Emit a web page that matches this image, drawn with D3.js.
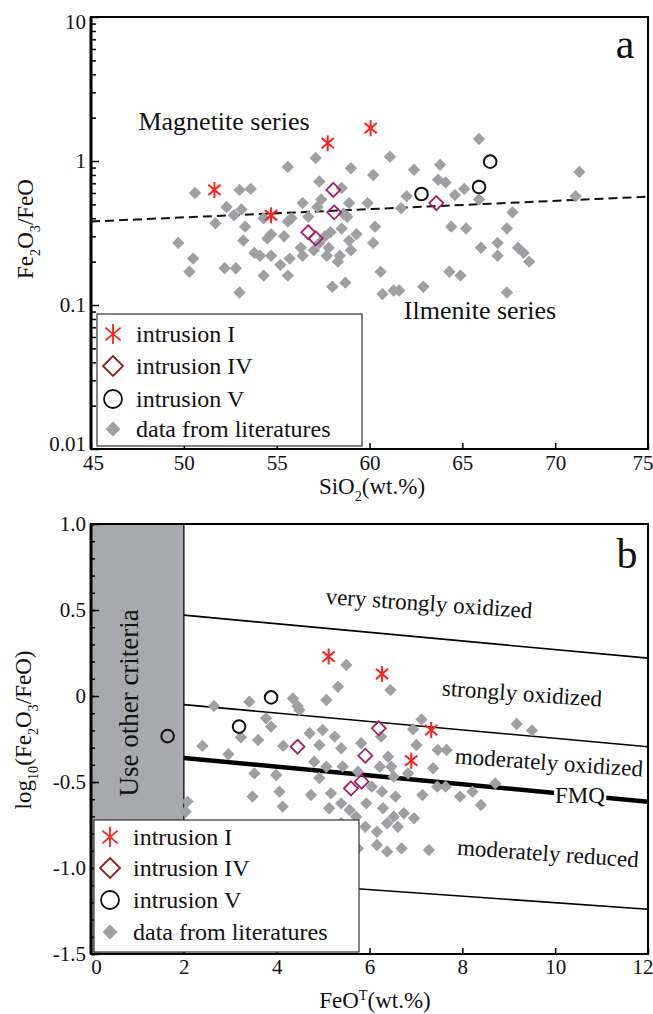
<!DOCTYPE html>
<html>
<head>
<meta charset="utf-8">
<script src="https://cdn.jsdelivr.net/npm/d3@7"></script>
<style>
  body { margin: 0; background: #fff; }
  svg { display: block; }
</style>
</head>
<body>
<div id="chart"></div>
<script>
// ---- panel a: SiO2 vs Fe2O3/FeO (log) ----
const litSiO2 = [65.9, 61.1, 57.1, 55.6, 59.0, 62.4, 63.8, 71.3, 60.2, 57.3, 63.7, 64.1, 50.6, 53.0, 53.6, 58.5,
  65.1, 62.0, 64.6, 71.1, 65.9, 56.4, 57.4, 58.9, 59.9, 52.3, 53.1, 61.7, 67.7, 57.2, 51.7, 52.7, 54.3, 55.8,
  56.7, 58.6, 58.8, 53.3, 55.6, 60.3, 64.4, 65.2, 67.4, 54.7, 55.4, 56.3, 57.6, 57.9, 58.5, 49.7, 54.5, 53.2,
  59.3, 58.9, 60.2, 66.0, 66.9, 68.0, 68.3, 66.9, 68.6, 50.5, 52.2, 53.8, 54.1, 54.7, 55.2, 55.7, 56.4, 57.7,
  58.4, 59.0, 58.3, 50.3, 52.8, 54.3, 55.6, 60.6, 64.3, 64.9, 58.0, 58.7, 53.0, 60.7, 61.3, 61.6, 62.9, 67.4,
  57.3, 57.0, 57.8];
const litRatio = [1.42, 1.07, 1.05, 0.91, 0.89, 0.87, 0.94, 0.84, 0.80, 0.72, 0.74, 0.71, 0.60, 0.63, 0.64, 0.65,
  0.64, 0.57, 0.58, 0.57, 0.54, 0.51, 0.54, 0.51, 0.51, 0.48, 0.46, 0.47, 0.44, 0.48, 0.37, 0.42, 0.40, 0.40,
  0.41, 0.43, 0.41, 0.35, 0.38, 0.35, 0.35, 0.34, 0.34, 0.31, 0.30, 0.25, 0.30, 0.32, 0.34, 0.27, 0.29, 0.28,
  0.31, 0.28, 0.27, 0.25, 0.27, 0.25, 0.23, 0.22, 0.20, 0.21, 0.18, 0.23, 0.22, 0.22, 0.19, 0.21, 0.22, 0.22,
  0.22, 0.24, 0.20, 0.17, 0.18, 0.16, 0.16, 0.17, 0.17, 0.16, 0.134, 0.143, 0.122, 0.119, 0.126, 0.126, 0.134, 0.122,
  0.27, 0.24, 0.25];
const intI_SiO2 = [51.65, 54.7, 57.75, 60.06];
const intI_Ratio = [0.63, 0.42, 1.33, 1.69];
const intIV_SiO2 = [58.05, 58.1, 56.7, 57.1, 63.6];
const intIV_Ratio = [0.63, 0.44, 0.32, 0.29, 0.51];
const intV_SiO2 = [62.8, 65.9, 66.5];
const intV_Ratio = [0.59, 0.66, 0.99];
const dividerSiO2 = [45, 75];
const dividerRatio = [0.38, 0.565];
const siTicks = [45, 50, 55, 60, 65, 70, 75];
const ratioTicks = [0.01, 0.1, 1, 10];
const ratioTickLabels = ["0.01", "0.1", "1", "10"];

// ---- panel b: FeOT vs log10(Fe2O3/FeO) ----
const litFeO = [2.65, 3.41, 4.35, 4.45, 4.49, 5.07, 3.77, 3.88, 2.40, 2.96, 3.23, 3.60, 4.14, 4.71, 4.99, 4.92,
  4.81, 3.52, 3.99, 5.50, 5.32, 6.45, 7.12, 6.94, 9.17, 5.25, 6.25, 5.39, 5.82, 7.01, 7.47, 7.66, 6.40, 7.37,
  6.22, 6.47, 5.07, 9.50, 5.42, 5.75, 6.52, 6.83, 8.71, 7.46, 5.39, 6.05, 6.27, 6.56, 7.14, 7.64, 7.95, 8.40,
  8.22, 5.13, 5.57, 5.93, 6.29, 6.52, 6.74, 6.96, 6.38, 6.61, 6.16, 5.91, 5.71, 5.39, 4.92, 2.04, 4.13, 3.48,
  4.06, 4.74, 5.17, 2.08, 5.75, 6.16, 6.38, 6.69, 7.28];
const litLog = [-0.058, -0.033, -0.014, -0.058, -0.081, -0.023, -0.13, -0.178, -0.29, -0.339, -0.24, -0.256,
  -0.29, -0.217, -0.198, -0.285, -0.382, -0.45, -0.459, 0.18, 0.054, 0.035, -0.136, -0.194, -0.163, -0.236,
  -0.236, -0.304, -0.275, -0.285, -0.314, -0.314, -0.353, -0.42, -0.411, -0.411, -0.411, -0.20, -0.41, -0.44,
  -0.469, -0.45, -0.508, -0.527, -0.624, -0.527, -0.556, -0.585, -0.576, -0.527, -0.585, -0.634, -0.556,
  -0.653, -0.663, -0.624, -0.653, -0.702, -0.682, -0.711, -0.74, -0.76, -0.789, -0.76, -0.702, -0.74, -0.477,
  -0.673, -0.643, -0.585, -0.556, -0.576, -0.566, -0.614, -0.886, -0.866, -0.905, -0.886, -0.895];
const bI_FeO = [5.12, 6.27, 7.33, 6.90];
const bI_Log = [0.229, 0.128, -0.198, -0.376];
const bIV_FeO = [4.45, 6.20, 5.91, 5.60, 5.83];
const bIV_Log = [-0.295, -0.188, -0.347, -0.537, -0.498];
const bV_FeO = [1.65, 3.19, 3.88];
const bV_Log = [-0.233, -0.178, -0.008];
const boundaryFeO = [2, 12];
const veryStrongLine = [0.47, 0.22];
const strongLine = [-0.05, -0.295];
const fmqLine = [-0.36, -0.615];
const reducedLine = [-1.05, -1.24];
const feoTicks = [0, 2, 4, 6, 8, 10, 12];
const logTicks = [-1.5, -1.0, -0.5, 0, 0.5, 1.0];
const legendLabels = ["intrusion I", "intrusion IV", "intrusion V", "data from literatures"];

const FONT = '"Liberation Serif", "Times New Roman", serif';
const GRAY = "#9fa0a4";
const RED = "#ff1f1f";
const PURPLE = "#a3226e";
const LEG_DIAMOND = "#8e1f22";

const width = 653, height = 1014;
const svg = d3.select("#chart").append("svg")
  .attr("width", width)
  .attr("height", height)
  .attr("font-family", FONT);
svg.append("rect").attr("width", width).attr("height", height).attr("fill", "#fff");

function diamond(r) { return `M0,${-r}L${r},0L0,${r}L${-r},0Z`; }
function star(r) {
  const a = 40 * Math.PI / 180, dx = r * Math.cos(a), dy = r * Math.sin(a);
  return `M0,${-r}V${r}M${-dx},${-dy}L${dx},${dy}M${-dx},${dy}L${dx},${-dy}`;
}

// text with sub/superscripts: parts = [[text, "sub"|"sup"|null], ...]
function richText(g, parts, size) {
  const t = g.append("text").attr("font-size", size);
  let shift = 0;
  parts.forEach(([s, kind]) => {
    const target = kind === "sub" ? size * 0.3 : kind === "sup" ? -size * 0.35 : 0;
    const ts = t.append("tspan").text(s).attr("dy", target - shift);
    if (kind) ts.attr("font-size", size * 0.62);
    shift = target;
  });
  return t;
}

function drawPoints(g, xs, ys, x, y, pathFn, fill, stroke, sw) {
  g.append("g").selectAll("path")
    .data(xs.map((d, i) => [d, ys[i]]))
    .join("path")
    .attr("transform", d => `translate(${x(d[0])},${y(d[1])})`)
    .attr("d", pathFn)
    .attr("fill", fill)
    .attr("stroke", stroke)
    .attr("stroke-width", sw);
}

function legend(g, lx, ly, rows) {
  g.append("rect").attr("x", lx).attr("y", ly).attr("width", 265).attr("height", 132)
    .attr("fill", "#fff").attr("stroke", "#333").attr("stroke-width", 1.2);
  const sx = lx + 16, tx = lx + 39;
  const syms = [
    { d: star(10), fill: "none", stroke: RED, sw: 1.8 },
    { d: diamond(10), fill: "none", stroke: LEG_DIAMOND, sw: 1.8 },
    { d: d3.arc()({ innerRadius: 0, outerRadius: 9, startAngle: 0, endAngle: 2 * Math.PI }), fill: "none", stroke: "#111", sw: 1.8 },
    { d: diamond(7.5), fill: GRAY, stroke: "none", sw: 0 }
  ];
  rows.forEach((ry, i) => {
    g.append("path").attr("transform", `translate(${sx},${ly + ry})`)
      .attr("d", syms[i].d).attr("fill", syms[i].fill)
      .attr("stroke", syms[i].stroke).attr("stroke-width", syms[i].sw);
    g.append("text").attr("x", tx).attr("y", ly + ry).attr("dy", "0.35em")
      .attr("font-size", 24).attr("fill", "#111").text(legendLabels[i]);
  });
}

function styleAxis(g, size) {
  g.select(".domain").remove();
  g.selectAll(".tick line").attr("stroke", "#000").attr("stroke-width", 1.5);
  g.selectAll(".tick text").attr("font-size", size).attr("font-family", FONT).attr("fill", "#111");
}

// nudge end labels inward so they stay inside the page / off the other axis
function nudgeX(g, first, last) {
  const t = g.selectAll(".tick text");
  t.filter((d, i, n) => i === 0).attr("dx", first);
  t.filter((d, i, n) => i === n.length - 1).attr("text-anchor", "end").attr("x", last);
}

// ================= panel a =================
const xA = d3.scaleLinear().domain([45, 75]).range([91, 648]);
const yA = d3.scaleLog().domain([0.01, 10]).range([449, 17]);
const gA = svg.append("g");

gA.append("g")
  .attr("transform", `translate(0,${yA.range()[0]})`)
  .call(d3.axisBottom(xA).tickValues(siTicks).tickSize(-6).tickPadding(6).tickFormat(d => d))
  .call(g => styleAxis(g, 21))
  .call(g => nudgeX(g, 2, 5));

const minorA = [];
[0.01, 0.1, 1].forEach(b => { for (let k = 2; k <= 9; k++) minorA.push(b * k); });
gA.append("g")
  .attr("transform", `translate(${xA.range()[0]},0)`)
  .call(d3.axisLeft(yA).tickValues(minorA).tickSize(-5).tickFormat(""))
  .call(g => styleAxis(g, 21));
gA.append("g")
  .attr("transform", `translate(${xA.range()[0]},0)`)
  .call(d3.axisLeft(yA).tickValues(ratioTicks).tickSize(-8).tickPadding(5)
    .tickFormat((d, i) => ratioTickLabels[i]))
  .call(g => styleAxis(g, 21))
  .call(g => g.selectAll(".tick text").attr("y", d => d === 0.01 ? -5 : d === 10 ? 5 : 0));

gA.append("rect")
  .attr("x", xA.range()[0]).attr("y", yA.range()[1])
  .attr("width", xA.range()[1] - xA.range()[0]).attr("height", yA.range()[0] - yA.range()[1])
  .attr("fill", "none").attr("stroke", "#000").attr("stroke-width", 2);
gA.append("line")
  .attr("x1", xA.range()[0]).attr("x2", xA.range()[0])
  .attr("y1", yA.range()[1]).attr("y2", yA.range()[0])
  .attr("stroke", "#000").attr("stroke-width", 3);

gA.append("path")
  .datum(dividerSiO2.map((d, i) => [d, dividerRatio[i]]))
  .attr("d", d3.line().x(d => xA(d[0])).y(d => yA(d[1])))
  .attr("fill", "none").attr("stroke", "#111").attr("stroke-width", 2)
  .attr("stroke-dasharray", "9,5");

drawPoints(gA, litSiO2, litRatio, xA, yA, () => diamond(6.2), GRAY, "none", 0);
drawPoints(gA, intIV_SiO2, intIV_Ratio, xA, yA, () => diamond(7), "none", PURPLE, 1.8);
drawPoints(gA, intV_SiO2, intV_Ratio, xA, yA,
  () => d3.arc()({ innerRadius: 0, outerRadius: 6.3, startAngle: 0, endAngle: 2 * Math.PI }), "none", "#111", 2);
drawPoints(gA, intI_SiO2, intI_Ratio, xA, yA, () => star(8), "none", RED, 2);

gA.append("text").attr("x", 224).attr("y", 130).attr("text-anchor", "middle")
  .attr("font-size", 26).attr("fill", "#111").text("Magnetite series");
gA.append("text").attr("x", 480).attr("y", 319).attr("text-anchor", "middle")
  .attr("font-size", 26).attr("fill", "#111").text("Ilmenite series");
gA.append("text").attr("x", 625).attr("y", 58).attr("text-anchor", "middle")
  .attr("font-size", 42).attr("fill", "#111").text("a");

legend(gA, 97, 314, [20, 52, 85, 115]);

richText(gA, [["SiO", null], ["2", "sub"], ["(wt.%)", null]], 23)
  .attr("x", 372).attr("y", 494).attr("text-anchor", "middle").attr("fill", "#111");
richText(gA.append("g").attr("transform", "translate(33,229) rotate(-90)"),
  [["Fe", null], ["2", "sub"], ["O", null], ["3", "sub"], ["/FeO", null]], 23)
  .attr("text-anchor", "middle").attr("fill", "#111");

// ================= panel b =================
const xB = d3.scaleLinear().domain([0, 12]).range([91, 648]);
const yB = d3.scaleLinear().domain([-1.5, 1]).range([954, 524]);
const gB = svg.append("g");

gB.append("rect")
  .attr("x", xB(0)).attr("y", yB(1))
  .attr("width", xB(2) - xB(0)).attr("height", yB(-1.5) - yB(1))
  .attr("fill", "#a8a9ac");
gB.append("line")
  .attr("x1", xB(2)).attr("x2", xB(2)).attr("y1", yB(1)).attr("y2", yB(-1.5))
  .attr("stroke", "#222").attr("stroke-width", 1.5);
gB.append("text")
  .attr("transform", `translate(${xB(0.8)},${yB(-0.04)}) rotate(-90)`)
  .attr("text-anchor", "middle").attr("dy", "0.35em")
  .attr("font-size", 27).attr("fill", "#111").text("Use other criteria");

gB.append("g")
  .attr("transform", `translate(0,${yB.range()[0]})`)
  .call(d3.axisBottom(xB).tickValues(feoTicks).tickSize(-6).tickPadding(5).tickFormat(d => d))
  .call(g => styleAxis(g, 21))
  .call(g => nudgeX(g, 5, 5));
gB.append("g")
  .attr("transform", `translate(${xB.range()[0]},0)`)
  .call(d3.axisLeft(yB).tickValues(d3.range(-15, 11).map(v => v / 10)).tickSize(-4).tickFormat(""))
  .call(g => styleAxis(g, 21));
gB.append("g")
  .attr("transform", `translate(${xB.range()[0]},0)`)
  .call(d3.axisLeft(yB).tickValues(logTicks).tickSize(-8).tickPadding(5)
    .tickFormat(d => d === 0 ? "0" : d3.format(".1f")(d).replace("\u2212", "-")))
  .call(g => styleAxis(g, 21));

const lineB = d3.line().x(d => xB(d[0])).y(d => yB(d[1]));
[[veryStrongLine, 1.6], [strongLine, 1.6], [fmqLine, 4.5], [reducedLine, 1.6]].forEach(([ys, w]) => {
  gB.append("path")
    .datum(boundaryFeO.map((d, i) => [d, ys[i]]))
    .attr("d", lineB)
    .attr("fill", "none").attr("stroke", "#000").attr("stroke-width", w);
});

drawPoints(gB, litFeO, litLog, xB, yB, () => diamond(6.2), GRAY, "none", 0);
drawPoints(gB, bIV_FeO, bIV_Log, xB, yB, () => diamond(7), "none", PURPLE, 1.8);
drawPoints(gB, bV_FeO, bV_Log, xB, yB,
  () => d3.arc()({ innerRadius: 0, outerRadius: 6.3, startAngle: 0, endAngle: 2 * Math.PI }), "none", "#111", 2);
drawPoints(gB, bI_FeO, bI_Log, xB, yB, () => star(8), "none", RED, 2);

function zoneLabel(txt, cx, cy, size) {
  gB.append("text")
    .attr("transform", `translate(${cx},${cy}) rotate(4)`)
    .attr("text-anchor", "middle").attr("dy", "0.35em")
    .attr("font-size", size).attr("fill", "#111").text(txt);
}
zoneLabel("very strongly oxidized", 429, 603, 23);
zoneLabel("strongly oxidized", 522, 693, 23);
zoneLabel("moderately oxidized", 549, 762, 23);
zoneLabel("moderately reduced", 548, 853, 23);

const fmq = gB.append("text")
  .attr("x", 580).attr("y", 795).attr("dy", "0.35em")
  .attr("text-anchor", "middle").attr("font-size", 23).attr("fill", "#111").text("FMQ");
const bb = fmq.node().getBBox();
gB.insert("rect", () => fmq.node())
  .attr("x", bb.x - 1).attr("y", bb.y + 3).attr("width", bb.width + 2).attr("height", bb.height - 6)
  .attr("fill", "#fff");

gB.append("rect")
  .attr("x", xB.range()[0]).attr("y", yB.range()[1])
  .attr("width", xB.range()[1] - xB.range()[0]).attr("height", yB.range()[0] - yB.range()[1])
  .attr("fill", "none").attr("stroke", "#000").attr("stroke-width", 2);
gB.append("line")
  .attr("x1", xB.range()[0]).attr("x2", xB.range()[0])
  .attr("y1", yB.range()[1]).attr("y2", yB.range()[0])
  .attr("stroke", "#000").attr("stroke-width", 3);

gB.append("text").attr("x", 627).attr("y", 568).attr("text-anchor", "middle")
  .attr("font-size", 42).attr("fill", "#111").text("b");

legend(gB, 94, 820, [17, 48, 80, 112]);

richText(gB, [["FeO", null], ["T", "sup"], ["(wt.%)", null]], 23)
  .attr("x", 375).attr("y", 1008).attr("text-anchor", "middle").attr("fill", "#111");
richText(gB.append("g").attr("transform", "translate(31,730) rotate(-90)"),
  [["log", null], ["10", "sub"], ["(Fe", null], ["2", "sub"], ["O", null], ["3", "sub"], ["/FeO)", null]], 23)
  .attr("text-anchor", "middle").attr("fill", "#111");
</script>
</body>
</html>
